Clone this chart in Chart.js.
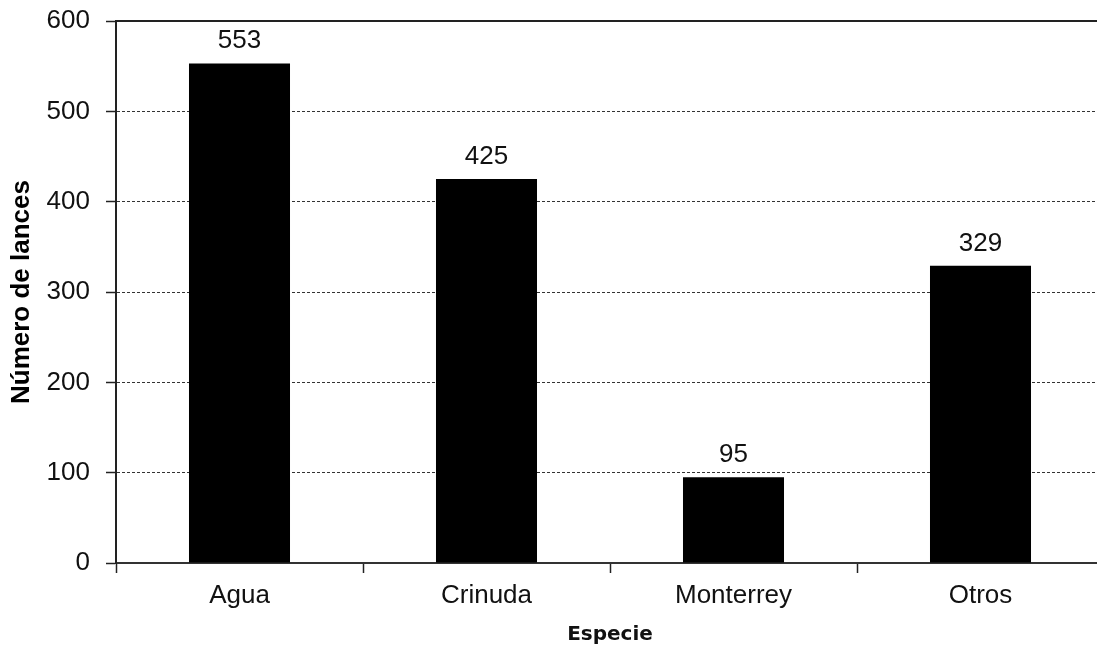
<!DOCTYPE html>
<html>
<head>
<meta charset="utf-8">
<script src="https://cdn.jsdelivr.net/npm/chart.js@4.4.1/dist/chart.umd.min.js"></script>
<style>
  html, body { margin: 0; padding: 0; background: #fff; overflow: hidden; }
  /* the plot runs a few pixels past the right edge of the page */
  #wrap { width: 1097px; height: 651px; overflow: hidden; }
  #c { display: block; }
</style>
</head>
<body>
<div id="wrap"><canvas id="c" width="1104" height="651"></canvas></div>
<script>
// Lances por especie
const categories = ['Agua', 'Crinuda', 'Monterrey', 'Otros'];
const lances = [553, 425, 95, 329];
const yTicks = [0, 100, 200, 300, 400, 500, 600];

const FONT = "'Liberation Sans', Arial, sans-serif";

// Value labels above each bar, and a solid line along the top of the value range
const barLabels = {
  id: 'barLabels',
  afterDatasetsDraw(chart) {
    const { ctx } = chart;
    const meta = chart.getDatasetMeta(0);
    ctx.save();
    ctx.fillStyle = '#111';
    ctx.font = '26px ' + FONT;
    ctx.textAlign = 'center';
    ctx.textBaseline = 'alphabetic';
    meta.data.forEach((bar, i) => {
      ctx.fillText(String(lances[i]), bar.x, bar.y - 15);
    });
    ctx.restore();
  },
  afterDraw(chart) {
    const { ctx, chartArea } = chart;
    const y = chart.scales.y;
    const yTop = Math.round(y.getPixelForValue(yTicks[yTicks.length - 1]));
    ctx.save();
    ctx.strokeStyle = '#222';
    ctx.lineWidth = 2;
    ctx.beginPath();
    ctx.moveTo(chartArea.left, yTop);
    ctx.lineTo(chart.width, yTop);
    ctx.stroke();
    ctx.restore();
  }
};

new Chart(document.getElementById('c'), {
  type: 'bar',
  data: {
    labels: categories,
    datasets: [{
      data: lances,
      backgroundColor: '#000',
      borderWidth: 0,
      barPercentage: 0.409,
      categoryPercentage: 1
    }]
  },
  options: {
    responsive: false,
    animation: false,
    layout: { padding: { top: 21, right: 0, left: 0, bottom: 0 } },
    plugins: { legend: { display: false }, tooltip: { enabled: false } },
    scales: {
      x: {
        offset: true,
        grid: {
          offset: true,
          drawOnChartArea: false,
          drawTicks: true,
          tickLength: 10,
          tickColor: '#222',
          tickWidth: 1.5,
          color: '#222'
        },
        border: { display: true, color: '#333', width: 2 },
        ticks: {
          color: '#111',
          font: { family: FONT, size: 26 },
          padding: 7,
          maxRotation: 0
        },
        title: {
          display: true,
          text: 'Especie',
          color: '#111',
          font: { family: "'DejaVu Sans', Verdana, sans-serif", size: 20, weight: 'bold' },
          padding: { top: 0, bottom: 4 }
        },
        afterFit(scale) { scale.height = 88; scale.paddingLeft = 0; scale.paddingRight = 0; }
      },
      y: {
        min: 0,
        max: 600,
        afterBuildTicks(scale) { scale.ticks = yTicks.map(v => ({ value: v })); },
        grid: {
          drawTicks: true,
          tickLength: 10,
          tickColor: '#222',
          tickWidth: 1.5,
          lineWidth: 1,
          color: (c) => (c.tick && (c.tick.value === 0 || c.tick.value === 600)) ? 'rgba(0,0,0,0)' : '#333'
        },
        border: { display: true, color: '#222', width: 2, dash: [3, 2] },
        ticks: {
          color: '#111',
          font: { family: FONT, size: 26 },
          padding: 16
        },
        title: {
          display: true,
          text: 'Número de lances',
          color: '#000',
          font: { family: FONT, size: 26, weight: 'bold' },
          padding: { top: 6, bottom: 0 }
        },
        afterFit(scale) { scale.width = 116; scale.paddingTop = 0; scale.paddingBottom = 0; }
      }
    }
  },
  plugins: [barLabels]
});
</script>
</body>
</html>
